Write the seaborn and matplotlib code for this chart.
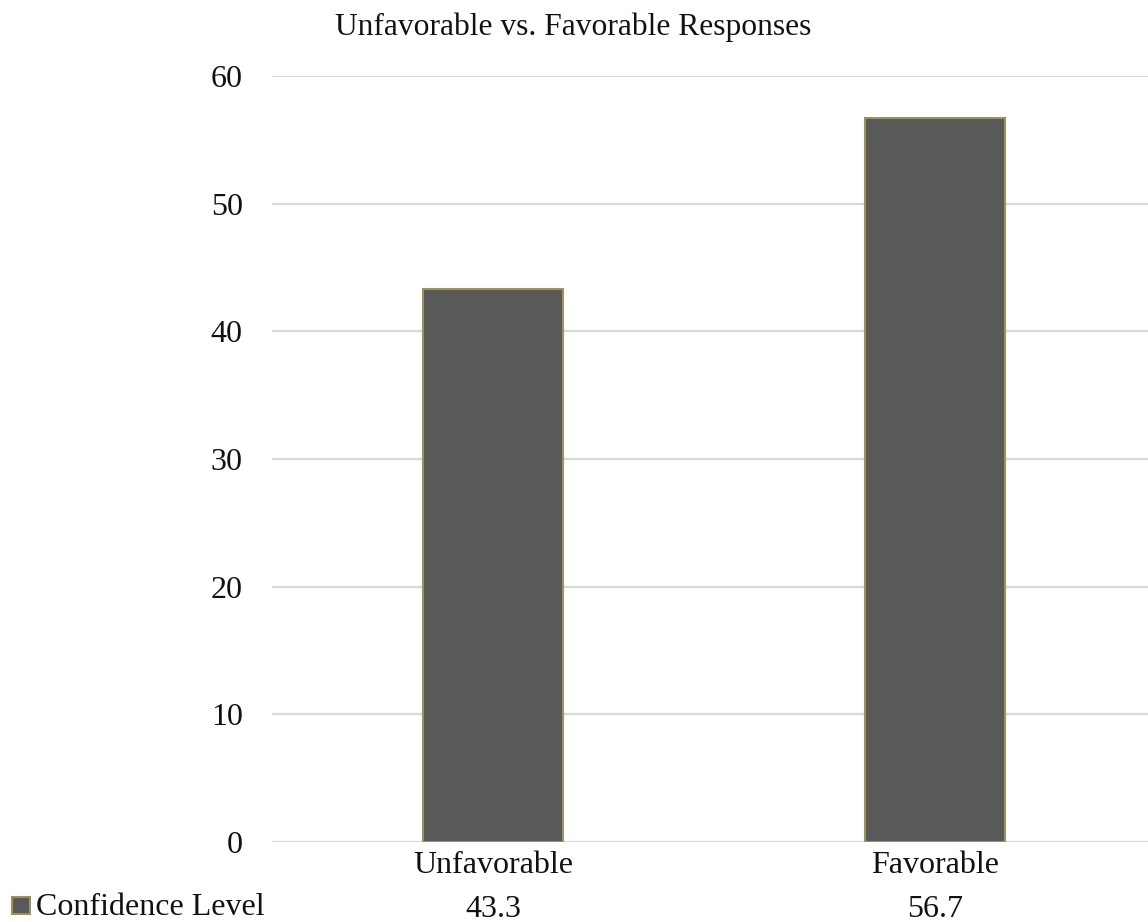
import matplotlib
matplotlib.use("Agg")
import matplotlib.pyplot as plt
import matplotlib.transforms as mtransforms
from matplotlib.patches import Rectangle
import pandas as pd
import seaborn as sns

categories = ["Unfavorable", "Favorable"]
values = [43.3, 56.7]
series_name = "Confidence Level"
title = "Unfavorable vs. Favorable Responses"
y_ticks = [0, 10, 20, 30, 40, 50, 60]

sns.set_theme(style="white")
plt.rcParams["font.family"] = ["Liberation Serif", "DejaVu Serif"]

bar_color = "#595959"
edge_color = "#9a9361"
grid_color = "#d9d9d9"
text_color = "#111111"
fs = 23

df = pd.DataFrame({"category": categories, "value": values})

W, H = 1148, 922
fig = plt.figure(figsize=(W / 100, H / 100), dpi=100)
# plot area: left edge at 272 px, baseline at 842 px, top gridline at 76 px
ax = fig.add_axes([272 / W, 1 - 842 / H, 884 / W, (842 - 76) / H])

sns.barplot(data=df, x="category", y="value", order=categories,
            color=bar_color, width=0.317, saturation=1,
            edgecolor=edge_color, linewidth=1.5, ax=ax, zorder=3)

ax.set_ylim(0, 60)
ax.set_xlim(-0.5, len(categories) - 0.5)
ax.set_yticks(y_ticks)
ax.set_yticklabels([str(t) for t in y_ticks], fontsize=fs, color=text_color)
ax.yaxis.grid(True, color=grid_color, linewidth=1.6, zorder=0)
ax.xaxis.grid(False)
ax.set_axisbelow(True)
for s in ax.spines.values():
    s.set_visible(False)
ax.tick_params(axis="y", length=0, pad=21)
ax.tick_params(axis="x", length=0, pad=6.5)
ax.set_xticks(range(len(categories)))
ax.set_xticklabels(categories, fontsize=fs, color=text_color)
ax.set_xlabel("")
ax.set_ylabel("")

fig.text(573 / W, 1 - 35 / H, title, ha="center", va="baseline",
         fontsize=22.7, color=text_color)

# data table row beneath the category labels
trans = mtransforms.blended_transform_factory(ax.transData, fig.transFigure)
for i, v in enumerate(values):
    ax.text(i, 1 - 917 / H, f"{v:.1f}", transform=trans, ha="center",
            va="baseline", fontsize=fs, color=text_color)
fig.text(36 / W, 1 - 915 / H, series_name, ha="left", va="baseline",
         fontsize=fs, color=text_color)
fig.patches.append(Rectangle((12 / W, 1 - 914 / H), 18 / W, 17 / H,
                             transform=fig.transFigure, facecolor=bar_color,
                             edgecolor=edge_color, linewidth=1.5))

fig.savefig("out.png", dpi=100)
